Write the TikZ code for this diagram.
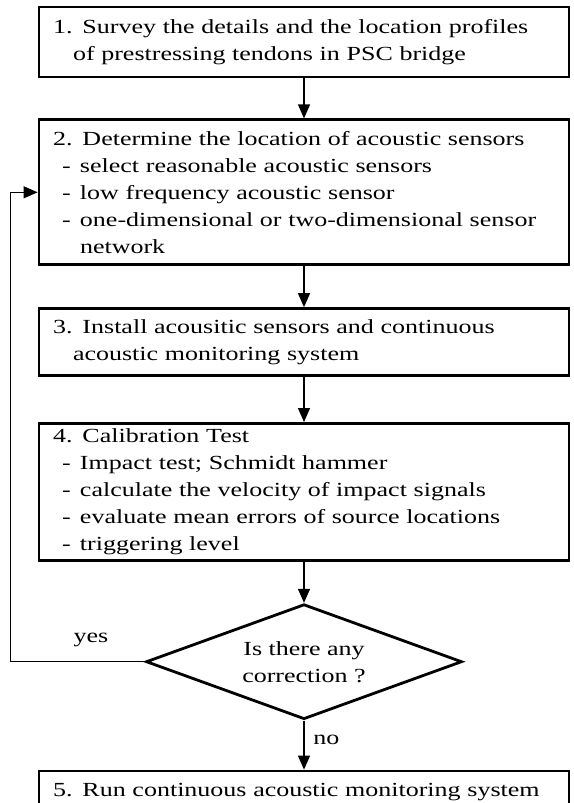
\documentclass[tikz,border=0pt]{standalone}
\usepackage{fontspec}
\setmainfont{Liberation Serif}[FakeStretch=1.3]
\usepackage{tikz}
\usetikzlibrary{arrows.meta,shapes.geometric,positioning}

\newcommand{\dashline}[1]{\makebox[27pt][l]{\hspace*{9pt}-}#1}

\begin{document}
\begin{tikzpicture}[node distance=40pt, >={Triangle[length=14pt,width=12pt]}]
    \useasboundingbox (0,0) rectangle (573pt,-803pt);
    \fontsize{20pt}{27pt}\selectfont  % font size
    \tikzstyle{format}=[rectangle,draw,line width=2.8pt,text width=502pt,inner xsep=14pt,inner ysep=0pt,align=left,font=\fontsize{20pt}{27pt}\selectfont]  % step boxes
    \tikzstyle{test}=[diamond,aspect=2.75,draw,line width=2.8pt,minimum width=316pt,minimum height=115pt,inner sep=0pt,align=center,font=\fontsize{20pt}{27pt}\selectfont]  % decision
    \tikzstyle{line}=[line width=1.3pt]  % connectors

    % steps
    \node[format,minimum height=70pt](1) at (304pt,-42pt){1. Survey the details and the location profiles\\\hspace*{20pt}of prestressing tendons in PSC bridge};
    \node[format,below=40pt of 1,minimum height=145pt](2){2. Determine the location of acoustic sensors\\\dashline{select reasonable acoustic sensors}\\\dashline{low frequency acoustic sensor}\\\dashline{one-dimensional or two-dimensional sensor}\\\hspace*{27pt}network};
    \node[format,below=41pt of 2,minimum height=67pt](3){3. Install acousitic sensors and continuous\\\hspace*{20pt}acoustic monitoring system};
    \node[format,below=45pt of 3,minimum height=137pt](4){4. Calibration Test\\\dashline{Impact test; Schmidt hammer}\\\dashline{calculate the velocity of impact signals}\\\dashline{evaluate mean errors of source locations}\\\dashline{triggering level}};
    \node[test,below=41pt of 4](q){Is there any\\correction ?};
    \node[format,below=49pt of q,minimum height=43pt](5){5. Run continuous acoustic monitoring system};
    \coordinate[left=134pt of q.west](back);

    % lines
    \draw[->,line](1)--(2);
    \draw[->,line](2)--(3);
    \draw[->,line](3)--(4);
    \draw[->,line](4)--(q);
    \draw[->,line](q)--node[right=2pt,pos=0.4]{no}(5);
    \draw[->,line width=1pt](q.west)--node[above=8pt,pos=0.4]{yes}(back)|-(2.west);
\end{tikzpicture}
\end{document}
